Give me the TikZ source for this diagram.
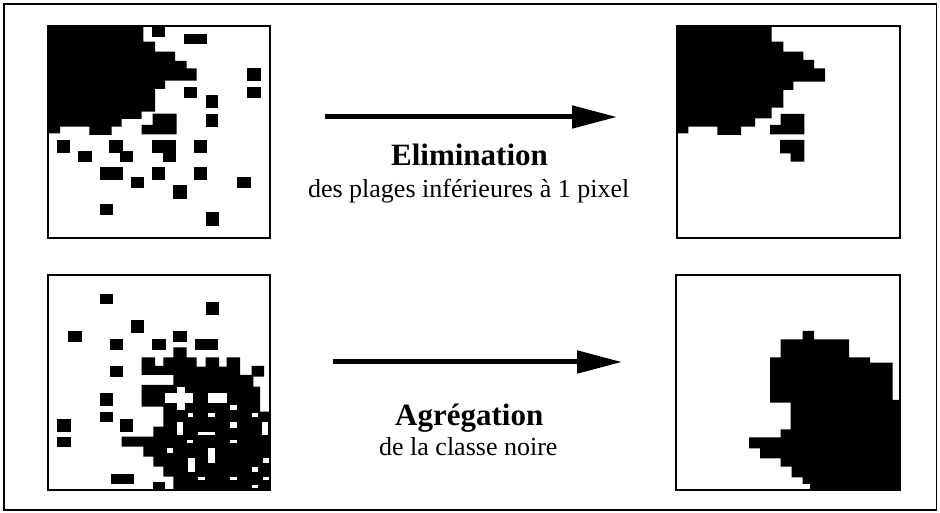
\documentclass[tikz,border=0pt]{standalone}
\usepackage{fontspec}
\setmainfont{Liberation Serif}
\usetikzlibrary{arrows.meta}
\begin{document}
\begin{tikzpicture}[x=0.75pt,y=-0.75pt,
  gridframe/.style={draw=black,line width=1.6pt},
  blk/.style={fill=black},
  hole/.style={fill=white},
  bigarrow/.style={line width=3.75pt,-{Triangle[length=33.75pt,width=16.5pt]}},
  titletext/.style={anchor=base,inner sep=0pt,font=\fontsize{23.25pt}{27pt}\selectfont\bfseries},
  subtext/.style={anchor=base,inner sep=0pt,font=\fontsize{19.5pt}{23pt}\selectfont}]
\useasboundingbox (0,0) rectangle (940,513);
\draw[line width=1.1pt] (4,4) rectangle (936.5,510);

% ---------- grid 1 (top left) ----------
\begin{scope}[shift={(40,15)},x=0.25pt,y=-0.25pt]
 \fill[blk] (22,32) -- (310,32) -- (310,80) -- (345,80) -- (345,110) -- (405,110) -- (405,138) -- (440,138) -- (440,160) -- (470,160) -- (470,197) -- (375,197) -- (375,222) -- (345,222) -- (345,290) -- (305,290) -- (305,312) -- (245,312) -- (245,335) -- (215,335) -- (215,360) -- (148,360) -- (148,335) -- (60,335) -- (60,355) -- (22,355) -- cycle;
 \fill[blk] (337,34) rectangle (375,65);
 \fill[blk] (432,57) rectangle (502,88);
 \fill[blk] (622,160) rectangle (662,198);
 \fill[blk] (622,215) rectangle (662,248);
 \fill[blk] (432,215) rectangle (470,248);
 \fill[blk] (497,240) rectangle (535,280);
 \fill[blk] (497,296) rectangle (535,336);
 \fill[blk] (338,296) -- (410,296) -- (410,358) -- (305,358) -- (305,330) -- (338,330) -- cycle;
 \fill[blk] (50,375) rectangle (90,415);
 \fill[blk] (115,408) rectangle (155,440);
 \fill[blk] (208,375) rectangle (248,415);
 \fill[blk] (240,408) rectangle (280,440);
 \fill[blk] (335,375) rectangle (408,415);
 \fill[blk] (368,408) rectangle (408,440);
 \fill[blk] (462,375) rectangle (502,415);
 \fill[blk] (180,455) rectangle (248,495);
 \fill[blk] (272,487) rectangle (312,520);
 \fill[blk] (335,455) rectangle (375,495);
 \fill[blk] (462,455) rectangle (502,495);
 \fill[blk] (400,510) rectangle (440,552);
 \fill[blk] (592,487) rectangle (632,520);
 \fill[blk] (180,567) rectangle (220,600);
 \fill[blk] (497,590) rectangle (537,632);
 \draw[gridframe] (23,32) rectangle (691,669);
\end{scope}

% ---------- grid 2 (top right) ----------
\begin{scope}[shift={(670,15)},x=0.25pt,y=-0.25pt]
 \fill[blk] (19,33) -- (305,33) -- (305,80) -- (340,80) -- (340,110) -- (400,110) -- (400,135) -- (432,135) -- (432,160) -- (465,160) -- (465,200) -- (370,200) -- (370,225) -- (340,225) -- (340,278) -- (305,278) -- (305,310) -- (255,310) -- (255,335) -- (213,335) -- (213,360) -- (142,360) -- (142,335) -- (55,335) -- (55,355) -- (19,355) -- cycle;
 \fill[blk] (332,297) -- (403,297) -- (403,358) -- (300,358) -- (300,330) -- (332,330) -- cycle;
 \fill[blk] (330,375) -- (403,375) -- (403,440) -- (362,440) -- (362,415) -- (330,415) -- cycle;
 \draw[gridframe] (21,33) rectangle (691,668);
\end{scope}

% ---------- grid 3 (bottom left) ----------
\begin{scope}[shift={(40,260)},x=0.25pt,y=-0.25pt]
 \fill[blk] (305,292) -- (345,292) -- (345,318) -- (370,318) -- (370,292) -- (400,292) -- (400,262) -- (440,262) -- (440,292) -- (470,292) -- (470,320) -- (497,320) -- (497,292) -- (537,292) -- (537,320) -- (560,320) -- (560,292) -- (600,292) -- (600,345) -- (635,345) -- (635,318) -- (672,318) -- (672,350) -- (640,350) -- (640,380) -- (660,380) -- (660,455) -- (690,455) -- (690,690) -- (400,690) -- (400,650) -- (370,650) -- (370,620) -- (340,620) -- (340,590) -- (310,590) -- (310,560) -- (245,560) -- (245,530) -- (340,530) -- (340,500) -- (370,500) -- (370,440) -- (305,440) -- (305,375) -- (400,375) -- (400,345) -- (305,345) -- cycle;
 \fill[blk] (340,665) rectangle (375,690);
 % white holes
 \fill[hole] (375,400) rectangle (460,430);
 \fill[hole] (410,380) rectangle (435,450);
 \fill[hole] (505,400) rectangle (560,430);
 \fill[hole] (445,460) rectangle (460,470);
 \fill[hole] (505,460) rectangle (525,470);
 \fill[hole] (570,435) rectangle (590,450);
 \fill[hole] (635,460) rectangle (655,470);
 \fill[hole] (570,485) rectangle (590,505);
 \fill[hole] (410,485) rectangle (430,525);
 \fill[hole] (665,485) rectangle (685,525);
 \fill[hole] (475,515) rectangle (525,525);
 \fill[hole] (440,540) rectangle (460,550);
 \fill[hole] (570,540) rectangle (590,550);
 \fill[hole] (380,565) rectangle (400,580);
 \fill[hole] (505,565) rectangle (525,610);
 \fill[hole] (445,595) rectangle (465,635);
 \fill[hole] (475,650) rectangle (495,660);
 \fill[hole] (570,650) rectangle (590,660);
 \fill[hole] (635,620) rectangle (655,635);
 \fill[hole] (670,595) rectangle (690,610);
 \fill[hole] (670,650) rectangle (690,660);
 \fill[hole] (635,675) rectangle (655,685);
 % isolated squares
 \fill[blk] (180,102) rectangle (218,133);
 \fill[blk] (497,125) rectangle (537,165);
 \fill[blk] (272,180) rectangle (312,220);
 \fill[blk] (85,213) rectangle (125,245);
 \fill[blk] (400,213) rectangle (440,245);
 \fill[blk] (210,238) rectangle (250,270);
 \fill[blk] (337,238) rectangle (377,270);
 \fill[blk] (465,238) rectangle (535,270);
 \fill[blk] (210,318) rectangle (250,350);
 \fill[blk] (180,398) rectangle (218,438);
 \fill[blk] (180,455) rectangle (218,485);
 \fill[blk] (52,478) rectangle (92,515);
 \fill[blk] (240,478) rectangle (280,515);
 \fill[blk] (52,530) rectangle (92,562);
 \fill[blk] (212,642) rectangle (282,672);
 \draw[gridframe] (25,45) rectangle (691,691);
\end{scope}

% ---------- grid 4 (bottom right) ----------
\begin{scope}[shift={(670,260)},x=0.25pt,y=-0.25pt]
 \fill[blk] (398,213) -- (432,213) -- (432,238) -- (537,238) -- (537,292) -- (600,292) -- (600,308) -- (668,308) -- (668,420) -- (691,420) -- (691,691) -- (420,691) -- (420,672) -- (398,672) -- (398,652) -- (365,652) -- (365,620) -- (332,620) -- (332,595) -- (270,595) -- (270,565) -- (237,565) -- (237,532) -- (332,532) -- (332,508) -- (362,508) -- (362,428) -- (300,428) -- (300,292) -- (332,292) -- (332,238) -- (398,238) -- cycle;
 \draw[gridframe] (19,45) rectangle (691,691);
\end{scope}

% ---------- arrows and labels ----------
\coordinate (a1s) at (325,117);
\coordinate (a1t) at (617,117);
\draw[bigarrow] (a1s) -- (a1t);
\node[titletext] (t1) at (469.5,166) {Elimination};
\node[subtext] (s1) at (468.7,197.7) {des plages inférieures à 1 pixel};

\coordinate (a2s) at (333,362);
\coordinate (a2t) at (622,362);
\draw[bigarrow] (a2s) -- (a2t);
\node[titletext] (t2) at (469.2,426) {Agrégation};
\node[subtext] (s2) at (468.3,456) {de la classe noire};
\end{tikzpicture}
\end{document}
